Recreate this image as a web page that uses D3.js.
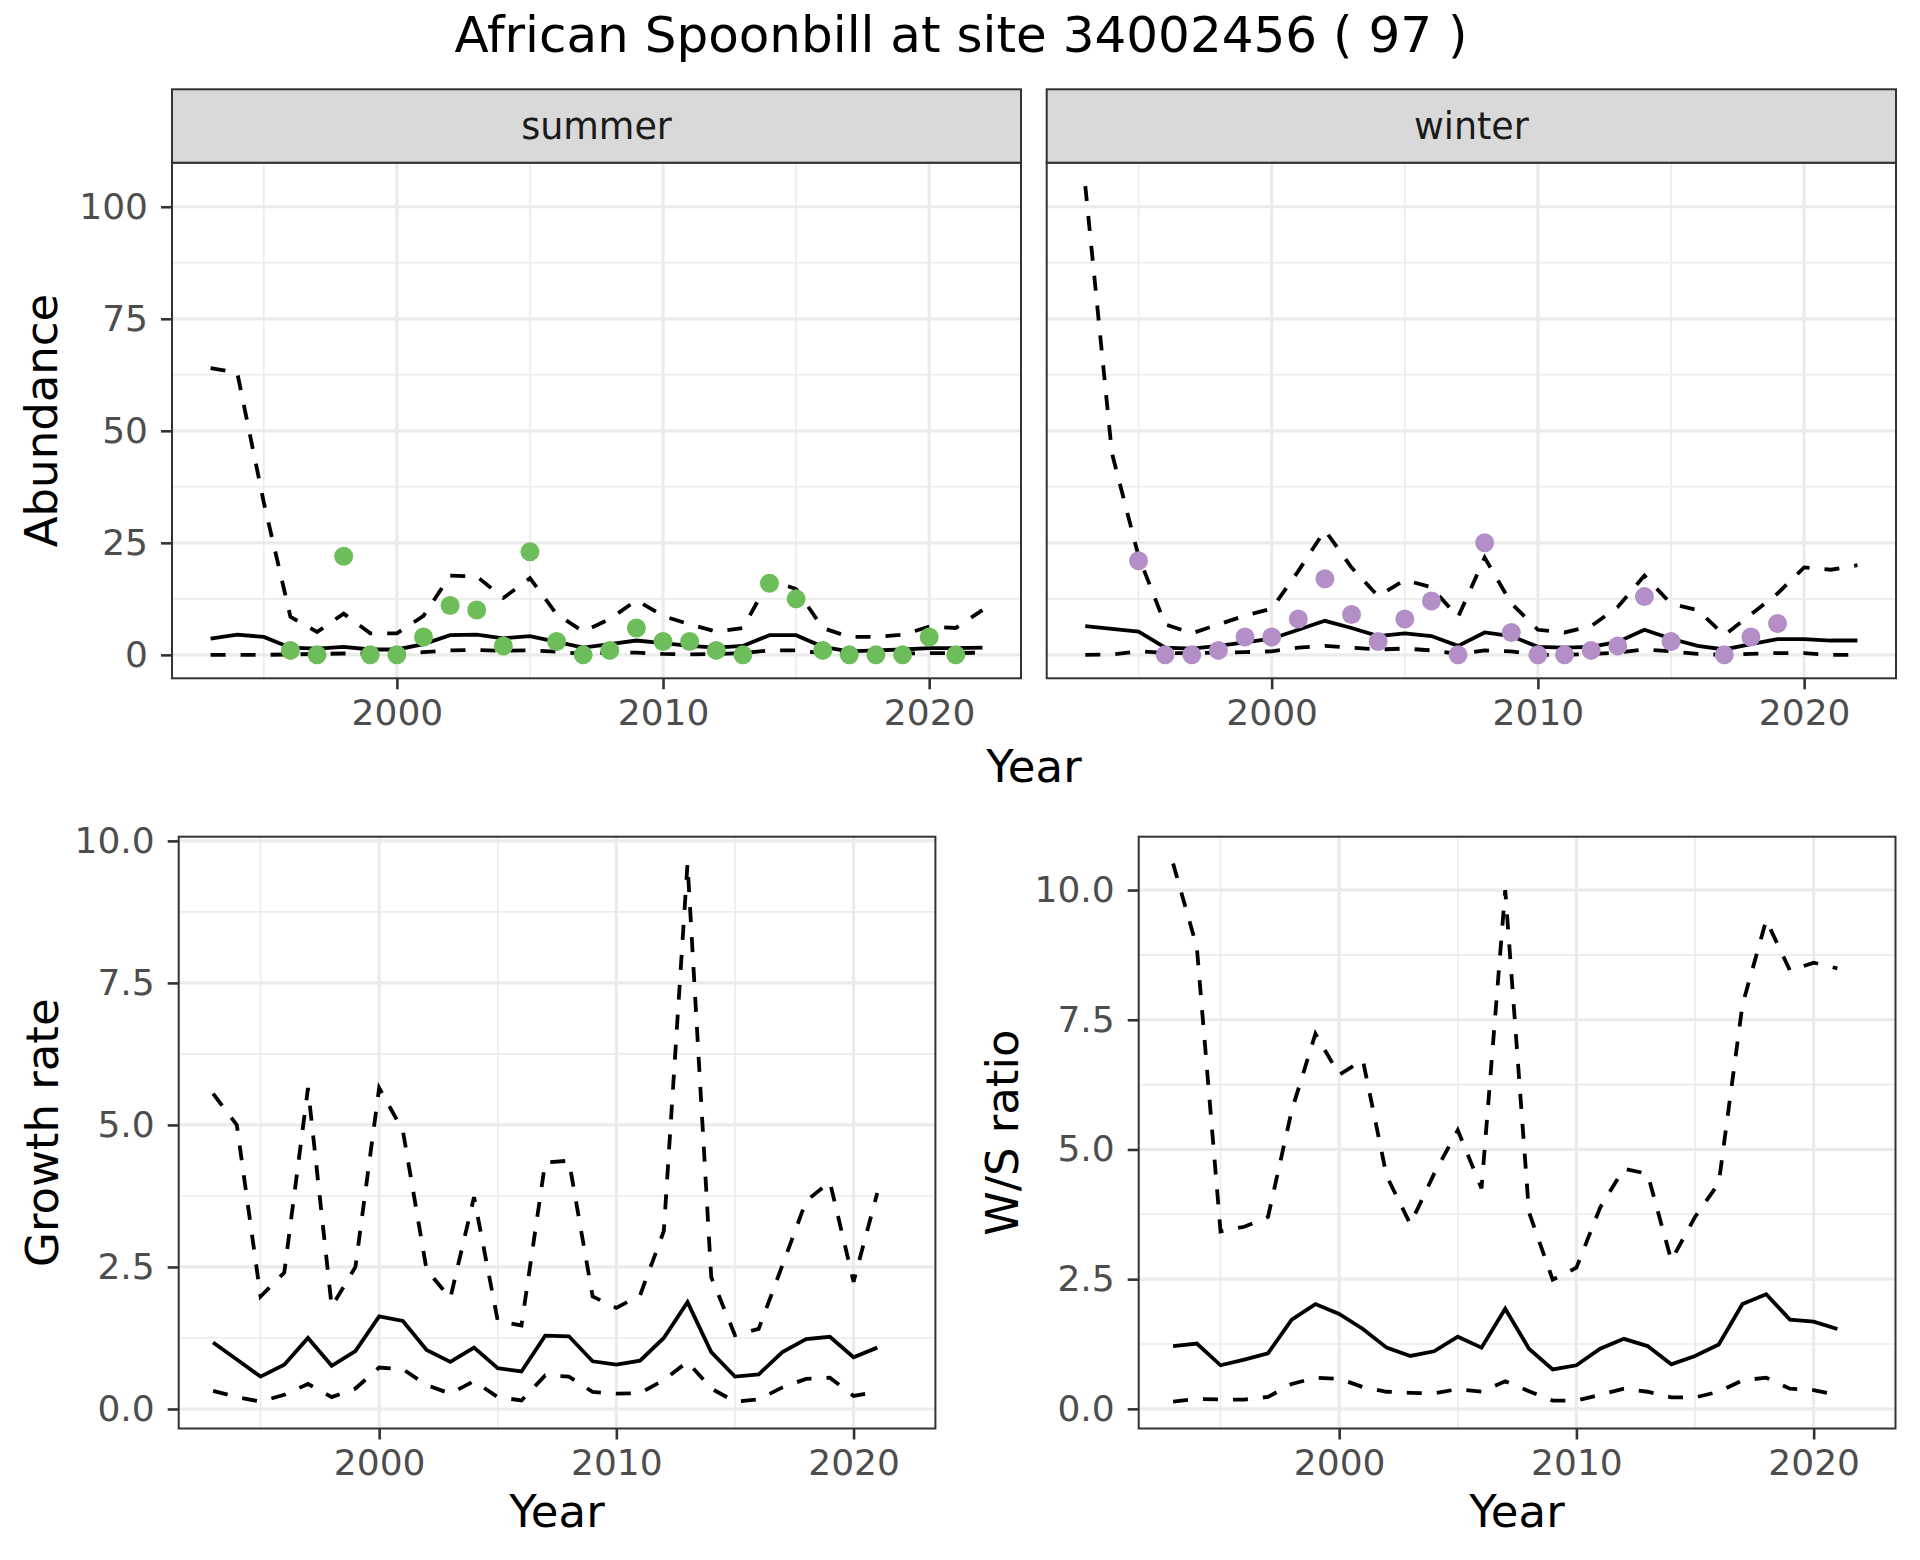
<!DOCTYPE html>
<html>
<head>
<meta charset="utf-8">
<script src="https://cdnjs.cloudflare.com/ajax/libs/d3/7.8.5/d3.min.js"></script>
<style>
body { margin: 0; background: #fff; }
text { font-family: "DejaVu Sans", sans-serif; }
</style>
</head>
<body>
<div id="chart"></div>
<script>
// years for the abundance panels and for the growth / ratio panels
var yearsTop = [1993,1994,1995,1996,1997,1998,1999,2000,2001,2002,2003,2004,2005,2006,2007,
                2008,2009,2010,2011,2012,2013,2014,2015,2016,2017,2018,2019,2020,2021,2022];
var yearsBottom = [1993,1994,1995,1996,1997,1998,1999,2000,2001,2002,2003,2004,2005,2006,2007,
                   2008,2009,2010,2011,2012,2013,2014,2015,2016,2017,2018,2019,2020,2021];

// summer abundance
var summerMean  = [3.6,4.5,4,1.6,1.4,1.8,1.2,1.2,2.4,4.4,4.5,3.7,4.2,2.9,1.6,2.4,3.2,2.6,2,1.6,2,4.4,4.4,1.8,0.8,1.0,1.2,1.5,1.5,1.6];
var summerUpper = [64,63,34,8.5,5.1,9.2,4.8,4.8,8.7,17.7,17.5,12.7,17.1,9.1,5.2,8,12.2,8.7,6.8,5.2,6,16.7,14.7,6,4,4,4.5,6.3,6,10];
var summerLower = [0,0,0,0.1,0.2,0.3,0.3,0.3,0.6,1.0,1.1,0.9,1.0,0.7,0.2,0.5,0.5,0.2,0.1,0.2,0.4,1.0,1.0,0.4,0.2,0.2,0.3,0.4,0.4,0.5];
var summerCountYears = [1996,1997,1998,1999,2000,2001,2002,2003,2004,2005,2006,2007,2008,
                        2009,2010,2011,2012,2013,2014,2015,2016,2017,2018,2019,2020,2021];
var summerCounts = [1,0,22,0,0,4,11,10,2,23,3,0,1,6,3,3,1,0,16,12.5,1,0,0,0,4,0];

// winter abundance
var winterMean  = [6.4,5.8,5.2,1.6,1.4,2,2.8,3.6,5.6,7.6,6,4.2,4.8,4.2,2,5,4.2,1.8,1.6,1.8,2.9,5.6,3.6,2,1.2,2.4,3.5,3.5,3.2,3.2];
var winterUpper = [104.6,45,22,6.8,4.8,6.8,8.75,10.3,18.7,27.8,19.5,13.1,16.7,15.1,8.4,21.7,11.5,5.6,5,6.4,10.7,17.7,11.4,10,4.4,9,13.7,19.5,19,20];
var winterLower = [0,0.1,0.8,0.4,0.4,0.5,0.6,0.8,1.6,2,1.6,1.2,1.4,1.0,0.2,1.0,0.8,0,0,0.2,0.5,1.2,0.8,0.2,0,0.2,0.4,0.4,0,0];
var winterCountYears = [1995,1996,1997,1998,1999,2000,2001,2002,2003,2004,2005,2006,2007,2008,
                        2009,2010,2011,2012,2013,2014,2015,2017,2018,2019];
var winterCounts = [21,0,0,1,4,4,8,17,9,3,8,12,0,25,5,0,0,1,2,13,3,0,4,7];

// growth rate
var growthMean  = [1.17,0.87,0.57,0.78,1.25,0.76,1.02,1.63,1.55,1.04,0.83,1.08,0.72,0.66,1.29,1.28,0.84,0.78,0.85,1.25,1.88,1.0,0.57,0.61,1.0,1.23,1.27,0.91,1.08];
var growthUpper = [5.55,5.0,1.98,2.4,5.65,1.8,2.5,5.65,4.9,2.45,1.95,3.73,1.55,1.47,4.34,4.37,1.98,1.78,2.0,3.13,9.6,2.32,1.3,1.41,2.53,3.66,4.0,2.24,3.8];
var growthLower = [0.32,0.21,0.13,0.25,0.44,0.21,0.36,0.73,0.70,0.42,0.27,0.49,0.21,0.15,0.59,0.57,0.30,0.27,0.28,0.51,0.83,0.36,0.13,0.17,0.38,0.53,0.55,0.23,0.30];

// winter / summer ratio
var ratioMean  = [1.21,1.26,0.84,0.95,1.07,1.72,2.02,1.83,1.54,1.18,1.02,1.11,1.39,1.18,1.93,1.16,0.76,0.84,1.16,1.35,1.21,0.86,1.02,1.24,2.02,2.21,1.72,1.68,1.54];
var ratioUpper = [10.51,8.9,3.42,3.51,3.7,5.75,7.23,6.44,6.72,4.49,3.56,4.53,5.37,4.25,10.0,3.79,2.49,2.72,3.88,4.63,4.53,2.86,3.7,4.35,7.79,9.42,8.45,8.6,8.49];
var ratioLower = [0.14,0.19,0.18,0.18,0.23,0.48,0.6,0.58,0.42,0.33,0.31,0.30,0.38,0.33,0.53,0.34,0.16,0.16,0.27,0.39,0.33,0.22,0.22,0.33,0.55,0.6,0.39,0.36,0.27];

var xMajor = [2000, 2010, 2020];
var xMinor = [1995, 2005, 2015];
var abundanceTicks = [0, 25, 50, 75, 100];
var abundanceMinor = [12.5, 37.5, 62.5, 87.5];
var smallTicks = [0, 2.5, 5, 7.5, 10];
var smallMinor = [1.25, 3.75, 6.25, 8.75];

var GREEN = "#6DBD5A", PURPLE = "#B48FC7";

function expand(vals)
{
	var e = d3.extent(vals);
	var p = (e[1] - e[0]) * 0.05;
	return [e[0] - p, e[1] + p];
}

var svg = d3.select("#chart").append("svg")
			.attr("width", 1920)
			.attr("height", 1560);

svg.append("rect").attr("width", 1920).attr("height", 1560).attr("fill", "#fff");

var xDomain = expand(yearsTop);
var abundanceDomain = expand([].concat(summerUpper, summerLower, summerCounts, winterUpper, winterLower, winterCounts));

function drawPanel(box, yDomain, yTicks, yMinor, yFmt, years, mean, upper, lower, ptYears, pts, colour, showY)
{
	var g = svg.append("g");
	var x = d3.scaleLinear().domain(xDomain).range([box.x0, box.x1]);
	var y = d3.scaleLinear().domain(yDomain).range([box.y1, box.y0]);

	g.append("rect")
		.attr("x", box.x0).attr("y", box.y0)
		.attr("width", box.x1 - box.x0).attr("height", box.y1 - box.y0)
		.attr("fill", "#fff");

	// grid
	g.selectAll(".vmin").data(xMinor).enter().append("line")
		.attr("x1", function(d) { return x(d); }).attr("x2", function(d) { return x(d); })
		.attr("y1", box.y0).attr("y2", box.y1)
		.style("stroke", "#EBEBEB").style("stroke-width", 1.6);
	g.selectAll(".hmin").data(yMinor).enter().append("line")
		.attr("y1", function(d) { return y(d); }).attr("y2", function(d) { return y(d); })
		.attr("x1", box.x0).attr("x2", box.x1)
		.style("stroke", "#EBEBEB").style("stroke-width", 1.6);
	g.selectAll(".vmaj").data(xMajor).enter().append("line")
		.attr("x1", function(d) { return x(d); }).attr("x2", function(d) { return x(d); })
		.attr("y1", box.y0).attr("y2", box.y1)
		.style("stroke", "#EBEBEB").style("stroke-width", 3.2);
	g.selectAll(".hmaj").data(yTicks).enter().append("line")
		.attr("y1", function(d) { return y(d); }).attr("y2", function(d) { return y(d); })
		.attr("x1", box.x0).attr("x2", box.x1)
		.style("stroke", "#EBEBEB").style("stroke-width", 3.2);

	var line = d3.line()
		.x(function(d, i) { return x(years[i]); })
		.y(function(d) { return y(d); });

	[[upper, "15 15"], [lower, "15 15"], [mean, null]].forEach(function(s)
	{
		g.append("path")
			.attr("d", line(s[0]))
			.attr("fill", "none")
			.style("stroke", "#000")
			.style("stroke-width", 3.8)
			.style("stroke-dasharray", s[1]);
	});

	if (pts)
	{
		g.selectAll("circle").data(pts).enter().append("circle")
			.attr("cx", function(d, i) { return x(ptYears[i]); })
			.attr("cy", function(d) { return y(d); })
			.attr("r", 9.5)
			.style("fill", colour);
	}

	g.append("rect")
		.attr("x", box.x0).attr("y", box.y0)
		.attr("width", box.x1 - box.x0).attr("height", box.y1 - box.y0)
		.attr("fill", "none")
		.style("stroke", "#333333").style("stroke-width", 2);

	var xa = g.append("g")
		.attr("transform", "translate(0," + box.y1 + ")")
		.call(d3.axisBottom(x).tickValues(xMajor).tickSize(11).tickPadding(10).tickFormat(d3.format("d")));
	styleAxis(xa);

	if (showY)
	{
		var ya = g.append("g")
			.attr("transform", "translate(" + box.x0 + ",0)")
			.call(d3.axisLeft(y).tickValues(yTicks).tickSize(11).tickPadding(13).tickFormat(yFmt));
		styleAxis(ya);
	}
}

function styleAxis(a)
{
	a.select(".domain").remove();
	a.selectAll(".tick line").style("stroke", "#333333").style("stroke-width", 2.6);
	a.selectAll(".tick text")
		.style("font-family", "DejaVu Sans")
		.style("font-size", "36px")
		.style("fill", "#4D4D4D");
}

function strip(x0, x1, label)
{
	svg.append("rect")
		.attr("x", x0).attr("y", 89.3)
		.attr("width", x1 - x0).attr("height", 73.4)
		.attr("fill", "#D9D9D9")
		.style("stroke", "#333333").style("stroke-width", 2);
	svg.append("text")
		.attr("x", (x0 + x1) / 2).attr("y", 139)
		.attr("text-anchor", "middle")
		.style("font-size", "36.5px")
		.style("fill", "#1A1A1A")
		.text(label);
}

function title(x, y, txt, rotate)
{
	svg.append("text")
		.attr("transform", "translate(" + x + "," + y + ")" + (rotate ? " rotate(-90)" : ""))
		.attr("text-anchor", "middle")
		.style("font-size", "45px")
		.style("fill", "#000")
		.text(txt);
}

var summerBox = {x0: 172, x1: 1021, y0: 162.7, y1: 678.3};
var winterBox = {x0: 1046.7, x1: 1896, y0: 162.7, y1: 678.3};
var growthBox = {x0: 178.7, x1: 935.4, y0: 836.7, y1: 1428.5};
var ratioBox  = {x0: 1138.7, x1: 1895.5, y0: 836.7, y1: 1428.5};

drawPanel(summerBox, abundanceDomain, abundanceTicks, abundanceMinor, d3.format("d"),
	yearsTop, summerMean, summerUpper, summerLower, summerCountYears, summerCounts, GREEN, true);
drawPanel(winterBox, abundanceDomain, abundanceTicks, abundanceMinor, d3.format("d"),
	yearsTop, winterMean, winterUpper, winterLower, winterCountYears, winterCounts, PURPLE, false);
drawPanel(growthBox, expand([].concat(growthUpper, growthLower)), smallTicks, smallMinor, d3.format(".1f"),
	yearsBottom, growthMean, growthUpper, growthLower, null, null, null, true);
drawPanel(ratioBox, expand([].concat(ratioUpper, ratioLower)), smallTicks, smallMinor, d3.format(".1f"),
	yearsBottom, ratioMean, ratioUpper, ratioLower, null, null, null, true);

strip(summerBox.x0, summerBox.x1, "summer");
strip(winterBox.x0, winterBox.x1, "winter");

svg.append("text")
	.attr("x", 961).attr("y", 51.7)
	.attr("text-anchor", "middle")
	.style("font-size", "50px")
	.style("fill", "#000")
	.text("African Spoonbill at site 34002456 ( 97 )");

title(57, 420.5, "Abundance", true);
title(1034, 781.7, "Year", false);
title(58, 1132.6, "Growth rate", true);
title(557, 1527, "Year", false);
title(1018, 1132.6, "W/S ratio", true);
title(1517, 1527, "Year", false);
</script>
</body>
</html>
